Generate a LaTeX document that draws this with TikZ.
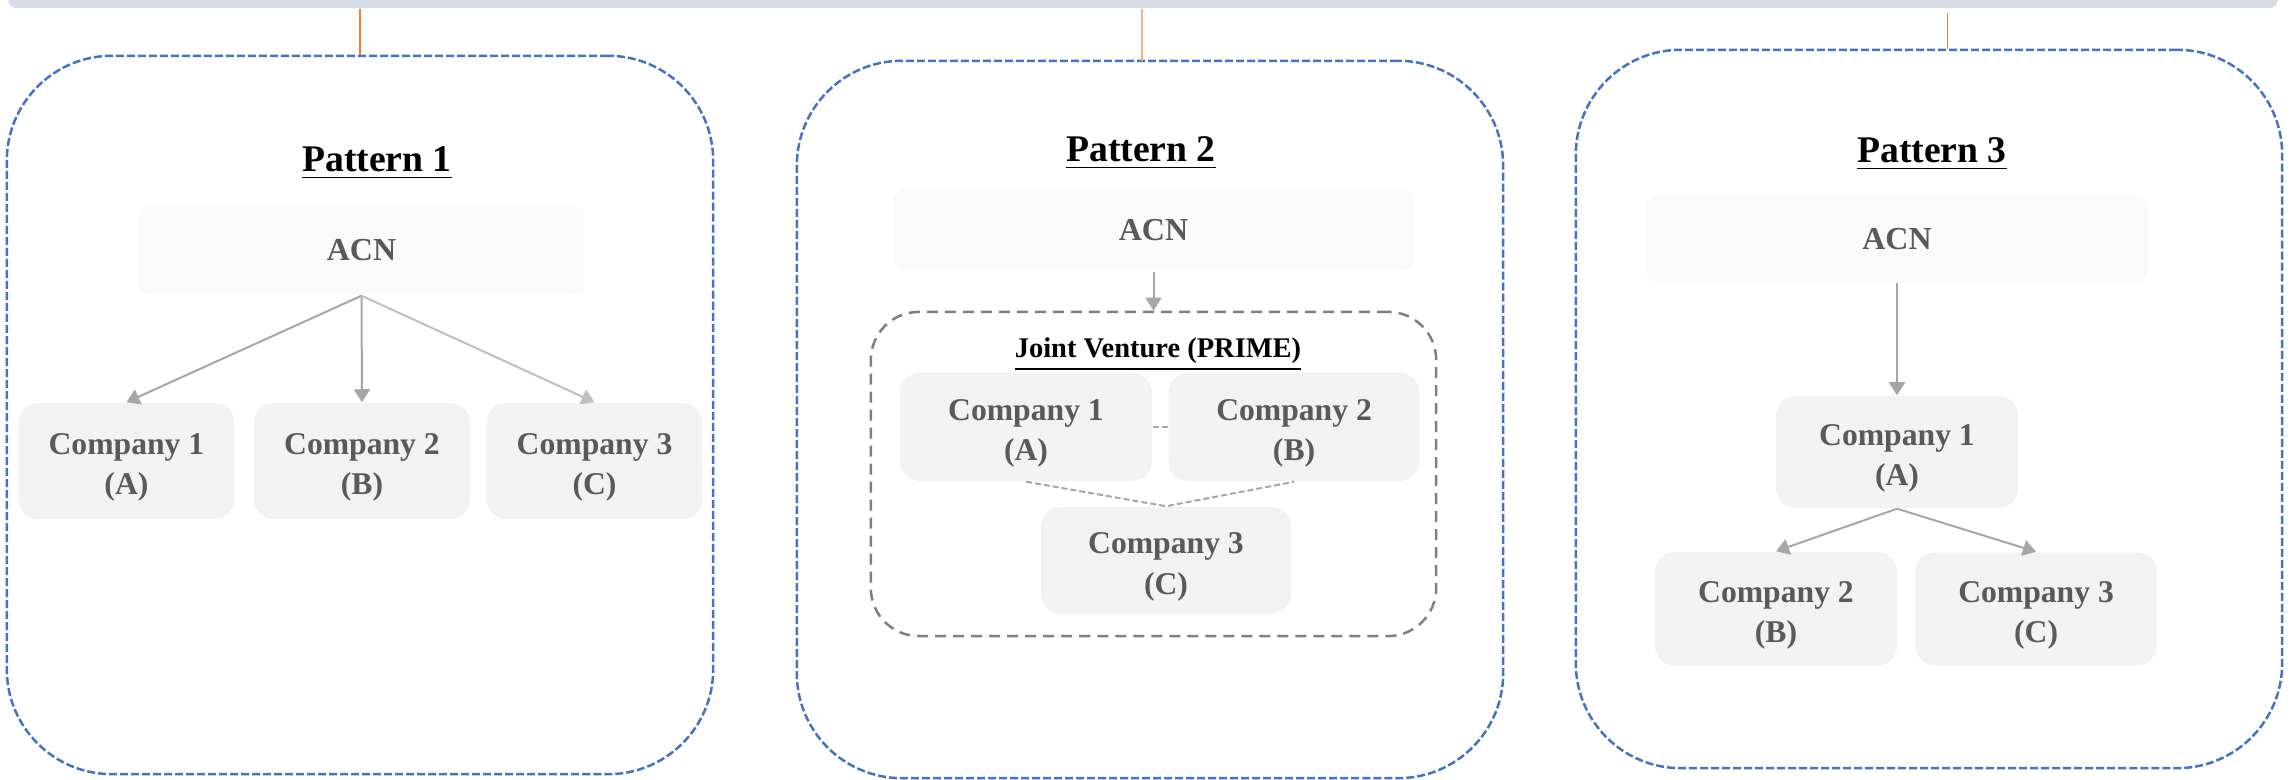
\documentclass[tikz,border=0pt]{standalone}
\usepackage{fontspec}
\setmainfont{Liberation Serif}
\usetikzlibrary{arrows.meta,positioning}
\definecolor{barblue}{HTML}{D6DCE5}
\definecolor{frameblue}{HTML}{4472C4}
\definecolor{linkorange}{HTML}{ED7D31}
\definecolor{linkpeach}{HTML}{F4B183}
\definecolor{acnfill}{HTML}{FAFAFA}
\definecolor{compfill}{HTML}{F2F2F2}
\definecolor{textgrey}{HTML}{595959}
\definecolor{arrowgrey}{HTML}{A6A6A6}
\definecolor{arrowlight}{HTML}{BFBFBF}
\definecolor{jvgrey}{HTML}{7F7F7F}
\newcommand{\compname}[2]{\rule{0pt}{9.6pt}Company #1\\(#2)}

\begin{document}
\begin{tikzpicture}[x=0.01cm, y=-0.01cm,
    frame/.style={draw=frameblue, line width=0.025cm, dash pattern=on 0.08cm off 0.03cm, rounded corners=1.05cm, inner sep=0pt},
    title/.style={anchor=base, font=\fontsize{10.7}{12}\selectfont\bfseries},
    acn/.style={fill=acnfill, rounded corners=1.2mm, inner sep=0pt, text=textgrey, font=\fontsize{9.1}{11.4}\selectfont\bfseries},
    company/.style={fill=compfill, rounded corners=2mm, inner sep=0pt, align=center, text=textgrey, font=\fontsize{9}{11.4}\selectfont\bfseries},
    link/.style={draw=arrowgrey, line width=0.02cm, -{Triangle[length=0.13cm, width=0.16cm]}},
    jvlink/.style={draw=arrowgrey, line width=0.02cm, dash pattern=on 0.06cm off 0.03cm}]
    \useasboundingbox (0,0) rectangle (2290,780);

    % Top bar and frames
    \node[fill=barblue, rounded corners=0.08cm, inner sep=0pt, minimum width=22.68cm, minimum height=0.38cm] (topbar) at (1143,-11) {};
    \node[frame, minimum width=7.06cm, minimum height=7.18cm] (pattern1) at (360,415) {};
    \node[frame, minimum width=7.06cm, minimum height=7.17cm] (pattern2) at (1150,419.5) {};
    \node[frame, minimum width=7.06cm, minimum height=7.18cm] (pattern3) at (1929,409) {};
    \coordinate (p2top) at (1142,61);
    \coordinate (p3top) at (1947,13);
    \draw[linkorange, line width=0.015cm] (topbar.south -| pattern1.north) -- (pattern1.north);
    \draw[linkpeach, line width=0.02cm] (topbar.south -| p2top) -- (p2top);
    \draw[linkorange, line width=0.01cm] (p3top) -- (p3top |- pattern3.north);

    % Pattern 1
    \node[title] (title1) at (377,172) {\underline{Pattern 1}};
    \node[acn, minimum width=4.45cm, minimum height=0.89cm] (acn1) at (361.5,250.5) {ACN};
    \node[company, minimum width=2.16cm, minimum height=1.16cm] (p1c2) at (362,461) {\compname{2}{B}};
    \node[company, minimum width=2.16cm, minimum height=1.16cm, left=0.18cm of p1c2] (p1c1) {\compname{1}{A}};
    \node[company, minimum width=2.16cm, minimum height=1.16cm, right=0.15cm of p1c2] (p1c3) {\compname{3}{C}};
    \draw[link] (acn1.south) -- (p1c1.north);
    \draw[link] (acn1.south) -- (p1c2.north);
    \draw[link, draw=arrowlight] (acn1.south) -- (p1c3.north);

    % Pattern 2
    \node[title] (title2) at (1141,162) {\underline{Pattern 2}};
    \node[acn, minimum width=5.21cm, minimum height=0.82cm] (acn2) at (1153.5,230) {ACN};
    \node[draw=jvgrey, line width=0.025cm, dash pattern=on 0.11cm off 0.07cm, rounded corners=0.48cm, minimum width=5.65cm, minimum height=3.24cm, inner sep=0pt] (jv) at (1153.5,474) {};
    \node[title, font=\fontsize{8.1}{10}\selectfont\bfseries] (jvtitle) at (1158,358) {\underline{Joint Venture (PRIME)}};
    \node[company, minimum width=2.52cm, minimum height=1.08cm] (p2c1) at (1026,427) {\compname{1}{A}};
    \node[company, minimum width=2.51cm, minimum height=1.08cm, right=0.15cm of p2c1] (p2c2) {\compname{2}{B}};
    \node[company, minimum width=2.50cm, minimum height=1.07cm] (p2c3) at (1166,560.5) {\compname{3}{C}};
    \draw[link] (acn2.south) -- (jv.north);
    \draw[jvlink] (p2c1.east) -- (p2c2.west);
    \draw[jvlink] (p2c1.south) -- (p2c3.north) -- (p2c2.south);

    % Pattern 3
    \node[title] (title3) at (1932,163) {\underline{Pattern 3}};
    \node[acn, minimum width=5.02cm, minimum height=0.86cm] (acn3) at (1897,239) {ACN};
    \node[company, minimum width=2.42cm, minimum height=1.12cm] (p3c1) at (1897,452) {\compname{1}{A}};
    \node[company, minimum width=2.42cm, minimum height=1.14cm] (p3c2) at (1776,609) {\compname{2}{B}};
    \node[company, minimum width=2.41cm, minimum height=1.13cm, right=0.17cm of p3c2] (p3c3) {\compname{3}{C}};
    \draw[link] (acn3.south) -- (p3c1.north);
    \draw[link] (p3c1.south) -- (p3c2.north);
    \draw[link] (p3c1.south) -- (p3c3.north);
\end{tikzpicture}
\end{document}
